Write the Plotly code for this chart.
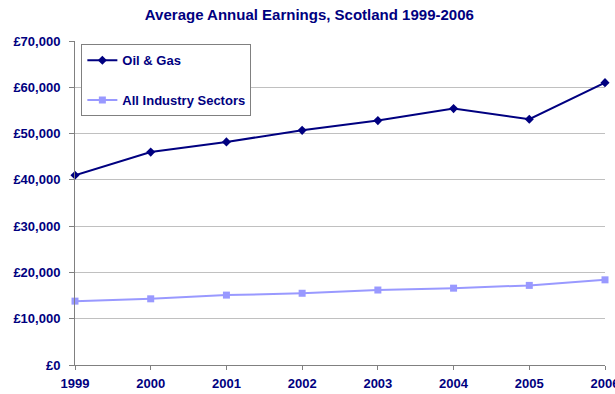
import plotly.graph_objects as go

years = [1999, 2000, 2001, 2002, 2003, 2004, 2005, 2006]
oil_gas = [41000, 46000, 48200, 50700, 52800, 55400, 53100, 61000]
all_sectors = [13800, 14300, 15100, 15500, 16200, 16600, 17200, 18400]
y_ticks = [0, 10000, 20000, 30000, 40000, 50000, 60000, 70000]

navy = "#000080"
lilac = "#9999FF"
font_family = "Arial, Liberation Sans, sans-serif"

fig = go.Figure()
fig.add_trace(go.Scatter(
    x=years, y=oil_gas, name="<b>Oil & Gas</b>", mode="lines+markers",
    line=dict(color=navy, width=2),
    marker=dict(symbol="diamond", size=7, color=navy),
    legendgroup="a", cliponaxis=False,
))
fig.add_trace(go.Scatter(
    x=years, y=all_sectors, name="<b>All Industry Sectors</b>", mode="lines+markers",
    line=dict(color=lilac, width=2),
    marker=dict(symbol="square", size=7, color=lilac),
    legendgroup="b", cliponaxis=False,
))

fig.update_layout(
    width=615, height=394,
    margin=dict(l=75, r=10, t=41, b=29),
    paper_bgcolor="white", plot_bgcolor="white",
    title=dict(
        text="<b>Average Annual Earnings, Scotland 1999-2006</b>",
        x=0.503, xanchor="center", y=0.962, yanchor="middle",
        font=dict(family=font_family, size=15, color=navy),
    ),
    font=dict(family=font_family, color=navy),
    legend=dict(
        x=0.012, y=0.99, xanchor="left", yanchor="top",
        bordercolor="#808080", borderwidth=1, bgcolor="white",
        font=dict(family=font_family, size=13, color=navy),
        tracegroupgap=20, itemwidth=30,
    ),
    showlegend=True,
)

fig.update_xaxes(
    range=[1999, 2006], tickvals=years, ticktext=[f"<b>{y}</b>" for y in years],
    showgrid=False, showline=True, linecolor="#808080", linewidth=1,
    ticks="outside", ticklen=4, tickcolor="#808080",
    tickfont=dict(family=font_family, size=13, color=navy),
    ticklabeloverflow="allow", ticklabelstandoff=2, automargin=False,
    zeroline=False,
)
fig.update_yaxes(
    range=[0, 70000], tickvals=y_ticks,
    ticktext=[f"<b>£{v:,}</b>" for v in y_ticks],
    showgrid=True, gridcolor="#C0C0C0", gridwidth=1,
    showline=True, linecolor="#808080", linewidth=1,
    ticks="outside", ticklen=5, tickcolor="#808080",
    tickfont=dict(family=font_family, size=13, color=navy),
    ticklabelstandoff=6, automargin=False,
    zeroline=False,
)

fig.write_html("out.html")
